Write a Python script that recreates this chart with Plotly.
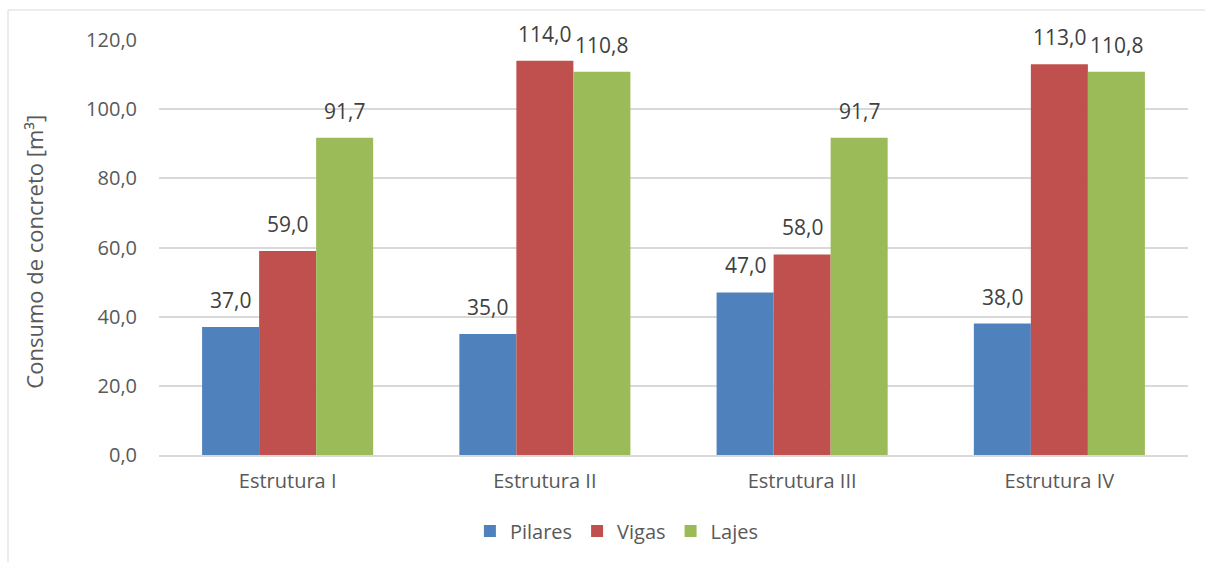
import plotly.graph_objects as go

# Concrete consumption per structure (m³)
categorias = ["Estrutura I", "Estrutura II", "Estrutura III", "Estrutura IV"]
pilares = [37.0, 35.0, 47.0, 38.0]
vigas = [59.0, 114.0, 58.0, 113.0]
lajes = [91.7, 110.8, 91.7, 110.8]
y_ticks = [0, 20, 40, 60, 80, 100, 120]

series = [
    ("Pilares", pilares, "#4F81BD"),
    ("Vigas", vigas, "#C0504D"),
    ("Lajes", lajes, "#9BBB59"),
]

W, H = 1205, 562
ML, MR, MT, MB = 159, 17, 40, 107
BARGAP = 0.335
FONT = "Open Sans"
TICK_COLOR = "#595959"
LABEL_COLOR = "#404040"

fig = go.Figure()
for nome, valores, cor in series:
    fig.add_trace(go.Bar(
        name=nome, x=categorias, y=valores,
        marker=dict(color=cor, line=dict(width=0)),
    ))

# value labels above each bar, offset to the bar's slot in the group
plot_w = W - ML - MR
bar_w = plot_w / len(categorias) * (1 - BARGAP) / len(series)
for i, (nome, valores, cor) in enumerate(series):
    off = (i - (len(series) - 1) / 2) * bar_w
    for cat, v in zip(categorias, valores):
        fig.add_annotation(
            x=cat, y=v, xref="x", yref="y",
            text=f"{v:.1f}".replace(".", ","),
            showarrow=False, xanchor="center", yanchor="bottom",
            xshift=off, yshift=11,
            font=dict(family=FONT, size=21, color=LABEL_COLOR),
        )

# y-axis title
fig.add_annotation(
    text="Consumo de concreto [m³]", textangle=-90,
    xref="paper", yref="paper", x=(34 - ML) / plot_w, y=0.49,
    xanchor="center", yanchor="middle", showarrow=False,
    font=dict(family=FONT, size=22, color=TICK_COLOR),
)

# outer chart border
plot_h = H - MT - MB
fig.add_shape(
    type="rect", xref="paper", yref="paper",
    x0=(8 - ML) / plot_w, x1=(1215 - ML) / plot_w,
    y0=(H - MB - 580) / plot_h, y1=(H - MB - 10) / plot_h,
    line=dict(color="#D9D9D9", width=1), fillcolor="rgba(0,0,0,0)", layer="below",
)

fig.update_layout(
    width=W, height=H,
    margin=dict(l=ML, r=MR, t=MT, b=MB, pad=0),
    paper_bgcolor="white", plot_bgcolor="white",
    barmode="group", bargap=BARGAP, bargroupgap=0,
    separators=",.",
    font=dict(family=FONT, size=20, color=TICK_COLOR),
    showlegend=True,
    legend=dict(
        orientation="h", x=0.445, y=(H - MB - 531) / plot_h,
        xanchor="center", yanchor="middle",
        font=dict(family=FONT, size=20, color=TICK_COLOR),
        itemwidth=30, traceorder="normal",
    ),
    xaxis=dict(
        showgrid=False, showline=True, linecolor="#D9D9D9", linewidth=1.5,
        ticks="", ticklabelstandoff=7, fixedrange=True,
        tickfont=dict(family=FONT, size=20, color=TICK_COLOR),
    ),
    yaxis=dict(
        range=[0, 120], tickvals=y_ticks, tickformat=".1f",
        showgrid=True, gridcolor="#D9D9D9", gridwidth=1.5,
        zeroline=False, showline=False, ticks="",
        ticklabelstandoff=21, fixedrange=True,
        tickfont=dict(family=FONT, size=20, color=TICK_COLOR),
    ),
)

fig.write_html("out.html")
